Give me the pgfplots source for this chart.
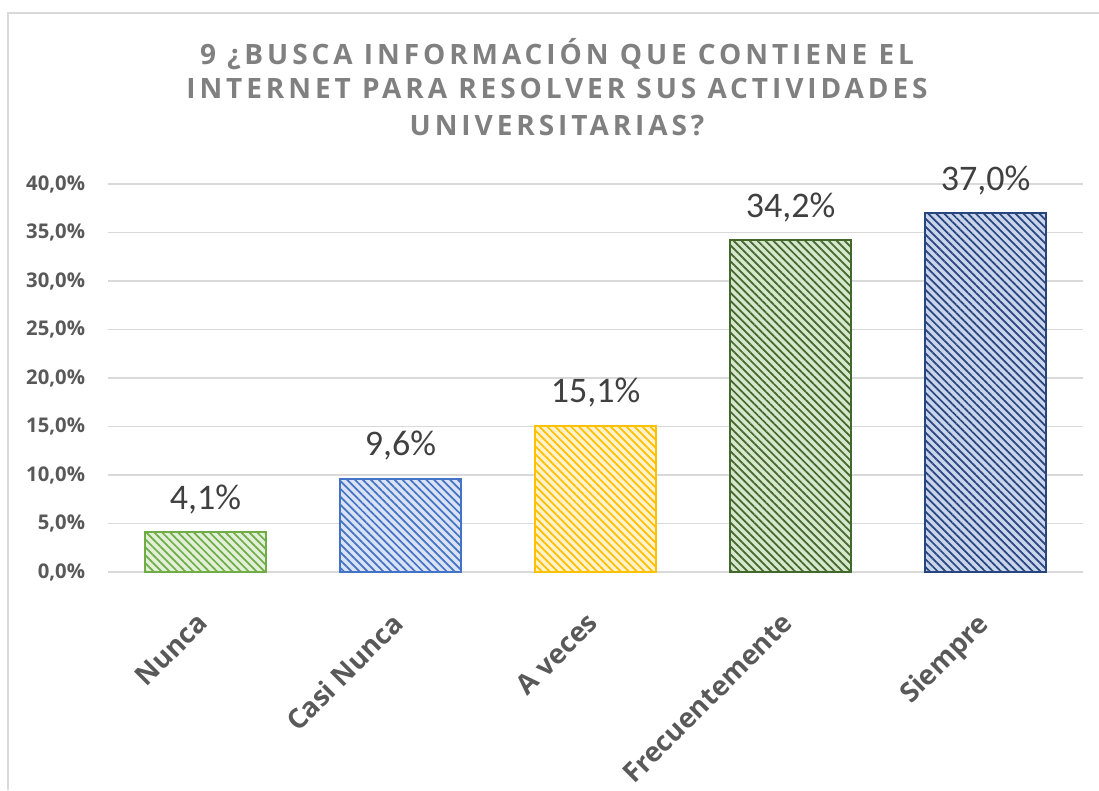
\documentclass[border=0pt]{standalone}
\usepackage{fontspec}
\setmainfont{Open Sans}
\newfontfamily\titlefont[LetterSpace=14]{Open Sans}
\newfontfamily\datafont{Carlito}
\usepackage{pgfplots}
\pgfplotsset{compat=1.18}
\usetikzlibrary{patterns.meta}
\definecolor{gridgray}{HTML}{D9D9D9}
\definecolor{titlegray}{HTML}{808080}
\definecolor{tickgray}{HTML}{595959}
\definecolor{labgray}{HTML}{404040}
\definecolor{gA}{HTML}{70AD47}\definecolor{gAf}{HTML}{E2F0D9}
\definecolor{bA}{HTML}{4472C4}\definecolor{bAf}{HTML}{DAE3F3}
\definecolor{yA}{HTML}{FFC000}\definecolor{yAf}{HTML}{FFF2CC}
\definecolor{gB}{HTML}{43682B}\definecolor{gBf}{HTML}{D7E7CD}
\definecolor{bB}{HTML}{28467E}\definecolor{bBf}{HTML}{CAD5EC}
\tikzset{barsty/.style n args={2}{draw=#1, line width=1.5pt, fill=#2,
  postaction={pattern={Lines[angle=-45,distance=4.2pt,line width=1.3pt]}, pattern color=#1}}}
\begin{document}
\begin{tikzpicture}
\path[use as bounding box] (0,0) rectangle (824.25pt,592.5pt);
\draw[gridgray, line width=1.3pt] (6pt,0) -- (6pt,582.75pt) -- (824.25pt,582.75pt);
\node[anchor=base, font=\titlefont\bfseries\fontsize{21}{22}\selectfont, text=titlegray] at (417.75pt,543.75pt) {9 ¿BUSCA INFORMACIÓN QUE CONTIENE EL};
\node[anchor=base, font=\titlefont\bfseries\fontsize{21}{22}\selectfont, text=titlegray] at (417.75pt,518.25pt) {INTERNET PARA RESOLVER SUS ACTIVIDADES};
\node[anchor=base, font=\titlefont\bfseries\fontsize{21}{22}\selectfont, text=titlegray] at (417.75pt,490.5pt) {UNIVERSITARIAS?};
\begin{axis}[
  at={(81pt,163.5pt)}, anchor=south west,
  width=731.25pt, height=291pt, scale only axis,
  xmin=-0.5, xmax=4.5, ymin=0, ymax=40,
  ybar, bar width=90.75pt, bar shift=0pt,
  axis lines=left, axis line style={-},
  y axis line style={draw=none},
  x axis line style={gridgray, line width=1.3pt},
  ymajorgrids, grid style={gridgray, line width=1.1pt},
  major tick length=0pt,
  xtick={0,1,2,3,4},
  xticklabels={Nunca, Casi Nunca, A veces, Frecuentemente, Siempre},
  xticklabel shift=21.5pt,
  xticklabel style={rotate=45, anchor=north east, inner sep=0pt, xshift=-10.5pt,
    font=\bfseries\fontsize{20.5}{21}\selectfont, text=tickgray},
  ytick={0,5,...,40},
  /pgf/number format/assume math mode=true,
  yticklabel={\pgfmathprintnumber[fixed,fixed zerofill,precision=1,use comma]{\tick}\%},
  yticklabel style={anchor=east, inner sep=0pt, xshift=-17pt,
    font=\bfseries\fontsize{15.2}{16}\selectfont, text=tickgray},
  nodes near coords={\pgfmathprintnumber[fixed,fixed zerofill,precision=1,use comma]{\pgfplotspointmeta}\%},
  every node near coord/.append style={anchor=south, inner sep=0pt, text depth=0pt, yshift=16.5pt,
    font=\datafont\fontsize{27}{27}\selectfont, text=labgray},
  clip=false,
]
\addplot[barsty={gA}{gAf}] coordinates {(0,4.1)};
\addplot[barsty={bA}{bAf}] coordinates {(1,9.6)};
\addplot[barsty={yA}{yAf}] coordinates {(2,15.1)};
\addplot[barsty={gB}{gBf}] coordinates {(3,34.2)};
\addplot[barsty={bB}{bBf}] coordinates {(4,37.0)};
\end{axis}
\end{tikzpicture}
\end{document}
